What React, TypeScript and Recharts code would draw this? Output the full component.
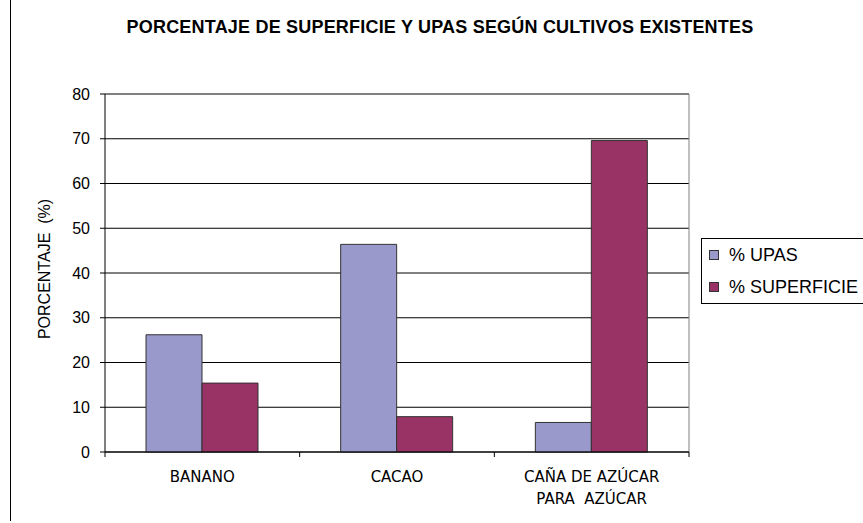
import { BarChart, Bar, XAxis, YAxis, CartesianGrid, Legend } from "recharts";

const categories = ["BANANO", "CACAO", "CAÑA DE AZÚCAR\nPARA  AZÚCAR"];
const upas = [26.2, 46.4, 6.6];
const superficie = [15.4, 7.9, 69.6];
const yTicks = [0, 10, 20, 30, 40, 50, 60, 70, 80];
const seriesOrder = ["upas", "superficie"];

const data = categories.map((name, i) => ({
  name,
  upas: upas[i],
  superficie: superficie[i],
}));

const PLOT_LEFT = 105;
const PLOT_RIGHT = 689;
const PLOT_BOTTOM = 452;
const BAND = (PLOT_RIGHT - PLOT_LEFT) / categories.length;

const XTick = (props: any) => {
  const { x, payload, index } = props;
  const lines = String(payload.value).split("\n");
  return (
    <g>
      <line x1={x - BAND / 2} x2={x - BAND / 2} y1={PLOT_BOTTOM} y2={PLOT_BOTTOM + 5} stroke="#000" />
      {index === categories.length - 1 && (
        <line x1={x + BAND / 2} x2={x + BAND / 2} y1={PLOT_BOTTOM} y2={PLOT_BOTTOM + 5} stroke="#000" />
      )}
      <text
        x={x}
        y={PLOT_BOTTOM + 30}
        textAnchor="middle"
        fontFamily="DejaVu Sans"
        fontSize={15}
        fill="#000"
        style={{ whiteSpace: "pre" }}
      >
        {lines.map((l, i) => (
          <tspan key={i} x={x} dy={i === 0 ? 0 : 22}>
            {l}
          </tspan>
        ))}
      </text>
    </g>
  );
};

const LegendBox = (props: any) => {
  const items = [...(props.payload || [])].sort(
    (a: any, b: any) => seriesOrder.indexOf(a.dataKey) - seriesOrder.indexOf(b.dataKey)
  );
  return (
    <div
      style={{
        border: "1px solid #000",
        width: 190,
        height: 66,
        background: "#fff",
        fontFamily: "Liberation Sans, Arial",
        fontSize: 18,
        color: "#000",
        boxSizing: "border-box",
      }}
    >
      {items.map((it: any) => (
        <div key={it.value} style={{ height: 32, display: "flex", alignItems: "center", paddingLeft: 7 }}>
          <span
            style={{
              width: 8,
              height: 8,
              background: it.color,
              border: "1px solid #333",
              marginRight: 10,
              display: "inline-block",
              flexShrink: 0,
            }}
          />
          <span style={{ whiteSpace: "nowrap" }}>{it.value}</span>
        </div>
      ))}
    </div>
  );
};

export default function App() {
  return (
    <div
      style={{
        position: "absolute",
        left: 0,
        top: 0,
        width: 863,
        height: 523,
        overflow: "hidden",
        background: "#fff",
        fontFamily: "Liberation Sans, Arial",
      }}
    >
      <div style={{ position: "absolute", left: 10, top: 0, width: 1, height: 521, background: "#000" }} />
      <div
        style={{
          position: "absolute",
          left: 0,
          width: 880,
          top: 18,
          textAlign: "center",
          fontWeight: "bold",
          fontSize: 18,
          lineHeight: "18px",
          letterSpacing: 0.2,
          color: "#000",
          whiteSpace: "nowrap",
        }}
      >
        PORCENTAJE DE SUPERFICIE Y UPAS SEGÚN CULTIVOS EXISTENTES
      </div>
      <div
        style={{
          position: "absolute",
          left: 45,
          top: 269,
          transform: "translate(-50%, -50%) rotate(-90deg)",
          whiteSpace: "pre",
          fontSize: 16,
          color: "#000",
        }}
      >
        PORCENTAJE  (%)
      </div>
      <BarChart
        width={863}
        height={523}
        data={data}
        margin={{ top: 94, right: 863 - PLOT_RIGHT, left: 0, bottom: 0 }}
        barCategoryGap={41}
        barGap={0}
      >
        <CartesianGrid vertical={false} stroke="#000" />
        <CartesianGrid horizontal={false} verticalPoints={[PLOT_RIGHT]} stroke="#808080" />
        <XAxis
          dataKey="name"
          height={71}
          tickLine={false}
          axisLine={{ stroke: "#000" }}
          tick={<XTick />}
          interval={0}
        />
        <YAxis
          width={PLOT_LEFT}
          domain={[0, 80]}
          ticks={yTicks}
          tickSize={5}
          tickMargin={10}
          axisLine={{ stroke: "#000" }}
          tickLine={{ stroke: "#000" }}
          tick={{ fontSize: 16, fill: "#000", fontFamily: "Liberation Sans, Arial" }}
        />
        <Legend
          align="center"
          verticalAlign="middle"
          content={<LegendBox />}
          wrapperStyle={{ left: 701, top: 238, width: 190 }}
        />
        <Bar dataKey="upas" name="% UPAS" fill="#9999CC" stroke="#333" isAnimationActive={false} />
        <Bar dataKey="superficie" name="% SUPERFICIE" fill="#993366" stroke="#333" isAnimationActive={false} />
      </BarChart>
    </div>
  );
}
